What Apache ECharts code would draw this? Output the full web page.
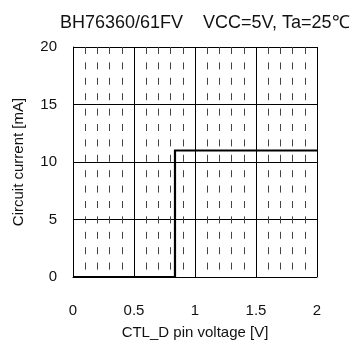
<!DOCTYPE html>
<html>
<head>
<meta charset="utf-8">
<script src="https://cdn.jsdelivr.net/npm/echarts@6/dist/echarts.min.js"></script>
<style>
	html, body { margin: 0; padding: 0; background: #fff; }
	#chart { width: 357px; height: 348px; }
</style>
</head>
<body>
<div id="chart"></div>
<script>
// Step curve: current jumps at ~0.84 V
const voltage = [ 0, 0.836, 0.836, 2 ];
const current = [ 0, 0, 11, 11 ];
const xTicks = [ 0, 0.5, 1, 1.5, 2 ];
const yTicks = [ 0, 5, 10, 15, 20 ];
const titleText = 'BH76360/61FV    VCC=5V, Ta=25℃';

const font = '"Liberation Sans", Arial, sans-serif';
const chart = echarts.init( document.getElementById( 'chart' ), null, { renderer: 'canvas' } );

chart.setOption( {
	animation: false,
	title: {
		text: titleText,
		left: 55,
		top: 9,
		textStyle: { fontFamily: font, fontSize: 18, fontWeight: 'normal', color: '#111' }
	},
	grid: { left: 73, right: 40, top: 47, bottom: 71, containLabel: false },
	xAxis: {
		type: 'value',
		min: xTicks[ 0 ],
		max: xTicks[ xTicks.length - 1 ],
		interval: 0.5,
		name: 'CTL_D pin voltage [V]',
		nameLocation: 'middle',
		nameGap: 48,
		nameTextStyle: { fontFamily: font, fontSize: 15, color: '#111' },
		axisLine: { lineStyle: { color: '#000', width: 1 } },
		axisTick: { show: false },
		axisLabel: { fontFamily: font, fontSize: 15, color: '#111', margin: 26 },
		splitLine: { show: true, lineStyle: { color: '#000', width: 1 } },
		minorTick: { show: false, splitNumber: 5 },
		minorSplitLine: { show: true, lineStyle: { color: '#444', width: 1, type: [ 7, 8.4 ] } }
	},
	yAxis: {
		type: 'value',
		min: yTicks[ 0 ],
		max: yTicks[ yTicks.length - 1 ],
		interval: 5,
		name: 'Circuit current [mA]',
		nameLocation: 'middle',
		nameGap: 47,
		nameTextStyle: { fontFamily: font, fontSize: 15, color: '#111' },
		axisLine: { show: true, lineStyle: { color: '#000', width: 1 } },
		axisTick: { show: false },
		axisLabel: { fontFamily: font, fontSize: 15, color: '#111', margin: 16 },
		splitLine: { show: true, lineStyle: { color: '#000', width: 1 } }
	},
	series: [ {
		type: 'line',
		data: voltage.map( ( v, i ) => [ v, current[ i ] ] ),
		showSymbol: false,
		symbol: 'none',
		lineStyle: { color: '#000', width: 2.2, join: 'miter' }
	} ]
} );
</script>
</body>
</html>
